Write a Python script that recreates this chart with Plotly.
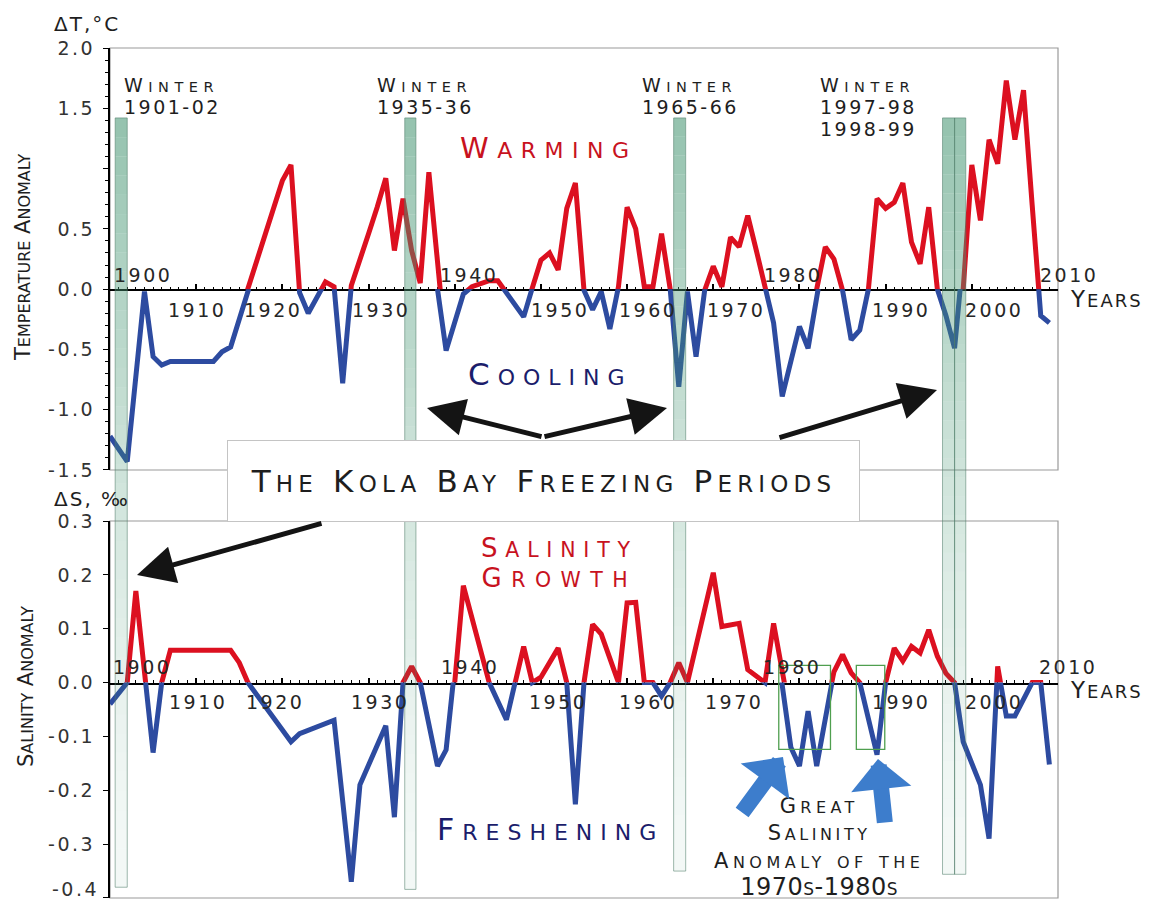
import itertools
import plotly.graph_objects as go

# ---------------------------------------------------------------- data
temp_years = [1900, 1902, 1904, 1905, 1906, 1907, 1912, 1913, 1914, 1915,
              1920, 1921, 1922, 1923, 1925, 1926, 1927, 1928, 1929, 1930,
              1931, 1932, 1933, 1934, 1935, 1936, 1937, 1938, 1939, 1940,
              1941, 1942, 1943, 1944, 1945, 1946, 1947, 1948, 1949, 1950,
              1951, 1952, 1953, 1954, 1955, 1956, 1957, 1958, 1959, 1960,
              1961, 1962, 1963, 1964, 1965, 1966, 1967, 1968, 1969, 1970,
              1971, 1972, 1973, 1974, 1975, 1976, 1977, 1978, 1979, 1980,
              1981, 1982, 1983, 1984, 1985, 1986, 1987, 1988, 1989, 1990,
              1991, 1992, 1993, 1994, 1995, 1996, 1997, 1998, 1999, 2000,
              2001, 2002, 2003, 2004, 2005, 2006, 2007, 2008, 2009]
temp_anomaly = [-1.22, -1.43, -0.02, -0.56, -0.63, -0.60, -0.60, -0.52, -0.48, -0.22,
                0.90, 1.03, -0.03, -0.20, 0.06, 0.02, -0.78, 0.03, 0.26, 0.46,
                0.68, 0.92, 0.32, 0.75, 0.32, 0.05, 0.97, 0.00, -0.51, -0.27,
                -0.04, 0.02, 0.04, 0.07, 0.07, -0.03, -0.13, -0.23, 0.01, 0.24,
                0.30, 0.16, 0.67, 0.88, -0.01, -0.17, -0.02, -0.33, 0.02, 0.68,
                0.50, 0.02, 0.02, 0.46, 0.00, -0.81, -0.02, -0.56, -0.01, 0.19,
                0.02, 0.43, 0.35, 0.61, 0.32, 0.03, -0.28, -0.89, -0.60, -0.31,
                -0.49, 0.00, 0.35, 0.25, -0.01, -0.42, -0.34, 0.00, 0.75, 0.67,
                0.72, 0.88, 0.39, 0.21, 0.68, 0.00, -0.22, -0.49, 0.00, 1.03,
                0.57, 1.24, 1.04, 1.73, 1.24, 1.65, 0.70, -0.22, -0.28]

sal_years = [1900, 1902, 1903, 1905, 1906, 1907, 1914, 1915, 1916, 1921,
             1922, 1926, 1928, 1929, 1932, 1933, 1934, 1935, 1936, 1938,
             1939, 1940, 1941, 1944, 1946, 1947, 1948, 1949, 1950, 1952,
             1953, 1954, 1955, 1956, 1957, 1959, 1960, 1961, 1962, 1963,
             1964, 1965, 1966, 1967, 1970, 1971, 1973, 1974, 1976, 1977,
             1978, 1979, 1980, 1981, 1982, 1983, 1984, 1985, 1986, 1987,
             1989, 1990, 1991, 1992, 1993, 1994, 1995, 1996, 1997, 1998,
             1999, 2001, 2002, 2003, 2004, 2005, 2007, 2008, 2009]
sal_anomaly = [-0.04, 0.00, 0.17, -0.13, 0.00, 0.06, 0.06, 0.037, 0.00, -0.11,
               -0.095, -0.07, -0.37, -0.19, -0.08, -0.25, 0.00, 0.03, 0.00, -0.155,
               -0.125, 0.00, 0.18, 0.00, -0.069, 0.00, 0.067, 0.00, 0.01, 0.064,
               0.00, -0.226, 0.00, 0.108, 0.09, 0.00, 0.148, 0.149, 0.00, 0.00,
               -0.025, 0.00, 0.037, 0.00, 0.204, 0.104, 0.11, 0.024, 0.00, 0.11,
               0.00, -0.12, -0.155, -0.053, -0.155, -0.06, 0.02, 0.052, 0.018, 0.00,
               -0.134, 0.00, 0.064, 0.04, 0.067, 0.055, 0.098, 0.049, 0.017, 0.00,
               -0.11, -0.19, -0.29, 0.03, -0.062, -0.062, 0.00, 0.00, -0.152]

# Kola Bay freezing winters (band edges in years)
freeze_start = [1900.6, 1934.2, 1965.4, 1996.6, 1998.0]
freeze_end = [1902.0, 1935.5, 1966.8, 1998.0, 1999.3]

# Great Salinity Anomaly windows
gsa_start = [1977.6, 1986.6]
gsa_end = [1983.6, 1989.9]
gsa_low = [-0.124, -0.124]
gsa_high = [0.032, 0.032]

decades = list(range(1900, 2011, 10))
temp_pos_ticks = [0.5, 1.0, 1.5, 2.0]
temp_pos_text = ["0.5", "", "1.5", "2.0"]
temp_neg_ticks = [-1.5, -1.0, -0.5, 0.0]
temp_neg_text = ["-1.5", "-1.0", "-0.5", "0.0"]
sal_pos_ticks = [0.1, 0.2, 0.3]
sal_pos_text = ["0.1", "0.2", "0.3"]
sal_neg_ticks = [-0.4, -0.3, -0.2, -0.1, 0.0]
sal_neg_text = ["", "-0.3", "-0.2", "-0.1", "0.0"]   # -0.4 is set a bit higher below
sal_floor_label = "-0.4"

# ---------------------------------------------------------------- styling
FONT = "DejaVu Sans"
RED = "#dc1020"
BLUE = "#2d4ba0"
TITLE_RED = "#c8121e"
NAVY = "#1b1d6b"
INK = "#1e1e1e"
TICK_INK = "#333333"
ARROW_BLUE = "#3d7dcc"
LINE_W = 5

FIG_W, FIG_H = 1150, 905
M_L, M_R, M_T, M_B = 110, 92, 48, 7
PLOT_W = FIG_W - M_L - M_R
PLOT_H = FIG_H - M_T - M_B
TOP_PANEL_BOTTOM = 470   # px
BOTTOM_PANEL_TOP = 521   # px
T_RANGE = (-1.5, 2.0)
S_RANGE = (-0.4, 0.3)
EPS = 1e-4               # keeps the end ticks inside the axis ranges


def px2paper(px):
    return (px - M_L) / PLOT_W


def py2paper(py):
    return (FIG_H - M_B - py) / PLOT_H


top_lo, top_hi = py2paper(TOP_PANEL_BOTTOM), 1.0
bot_lo, bot_hi = 0.0, py2paper(BOTTOM_PANEL_TOP)


def t2paper(v):
    return top_lo + (v - T_RANGE[0]) / (T_RANGE[1] - T_RANGE[0]) * (top_hi - top_lo)


def s2paper(v):
    return bot_lo + (v - S_RANGE[0]) / (S_RANGE[1] - S_RANGE[0]) * (bot_hi - bot_lo)


t_zero = t2paper(0.0)
s_zero = s2paper(0.0)


def sc(s, big, small, ls):
    """Small-caps style text: lowercase letters become smaller capitals."""
    out = []
    for is_lower, grp in itertools.groupby(s, key=str.islower):
        chunk = "".join(grp)
        if is_lower:
            out.append('<span style="font-size:%spx;letter-spacing:%spx">%s</span>'
                       % (small, ls, chunk.upper()))
        else:
            out.append('<span style="font-size:%spx;letter-spacing:%spx">%s</span>'
                       % (big, ls, chunk))
    return "".join(out)


def spaced(s, ls, size=None):
    style = "letter-spacing:%spx" % ls
    if size:
        style = "font-size:%spx;" % size + style
    return '<span style="%s">%s</span>' % (style, s)


def label(text, px, py, size, color=INK, xanchor="center", yanchor="middle", angle=0,
          align="center"):
    return dict(text=text, x=px2paper(px), y=py2paper(py), xref="paper", yref="paper",
                xanchor=xanchor, yanchor=yanchor, showarrow=False, textangle=angle,
                align=align, font=dict(family=FONT, size=size, color=color))


def arrow(tip, tail, color, width, head, size):
    return dict(text="", x=px2paper(tip[0]), y=py2paper(tip[1]), xref="paper", yref="paper",
                ax=tail[0] - tip[0], ay=tail[1] - tip[1], showarrow=True,
                arrowcolor=color, arrowwidth=width, arrowhead=head, arrowsize=size,
                standoff=0)


# ---------------------------------------------------------------- traces
fig = go.Figure()
line_kw = dict(mode="lines", hoverinfo="skip", showlegend=False)
fig.add_trace(go.Scatter(x=temp_years, y=temp_anomaly, xaxis="x", yaxis="y",
                         line=dict(color=RED, width=LINE_W), **line_kw))
fig.add_trace(go.Scatter(x=temp_years, y=temp_anomaly, xaxis="x", yaxis="y3",
                         line=dict(color=BLUE, width=LINE_W), **line_kw))
fig.add_trace(go.Scatter(x=sal_years, y=sal_anomaly, xaxis="x2", yaxis="y2",
                         line=dict(color=RED, width=LINE_W), **line_kw))
fig.add_trace(go.Scatter(x=sal_years, y=sal_anomaly, xaxis="x2", yaxis="y4",
                         line=dict(color=BLUE, width=LINE_W), **line_kw))

# ---------------------------------------------------------------- axes
tick_font = dict(family=FONT, size=19, color=TICK_INK)
xaxis_kw = dict(range=[1900, 2010], domain=[0, 1], showline=True, linecolor="black",
                linewidth=2, ticks="inside", ticklen=5, tickwidth=1.5, tickcolor="black",
                tickmode="array", tickvals=decades, showticklabels=False,
                showgrid=False, zeroline=False, layer="below traces", fixedrange=True,
                automargin=False,
                minor=dict(ticks="inside", ticklen=2.5, tickwidth=1, tickcolor="black",
                           tickmode="linear", tick0=1900, dtick=1, showgrid=False))


def yaxis_kw(domain, rng, vals, texts, anchor, minor):
    kw = dict(domain=domain, range=rng, anchor=anchor, showline=True, linecolor="black",
              linewidth=2, ticks="outside", ticklen=5, tickwidth=1.3, tickcolor="black",
              tickmode="array", tickvals=vals,
              ticktext=[spaced(t, 2.5) if t else "" for t in texts],
              tickfont=tick_font, showgrid=False, zeroline=False, fixedrange=True,
              ticklabelstandoff=4, ticklabeloverflow="allow", automargin=False)
    if minor:
        kw["minor"] = dict(ticks="outside", ticklen=3, tickwidth=1, tickcolor="black",
                           tickmode="linear", tick0=0, dtick=0.1, showgrid=False)
    return kw


fig.update_layout(
    xaxis=dict(anchor="y", **xaxis_kw),
    xaxis2=dict(anchor="y2", **xaxis_kw),
    yaxis=yaxis_kw([t_zero, top_hi], [0, T_RANGE[1] + EPS],
                   temp_pos_ticks, temp_pos_text, "x", True),
    yaxis3=yaxis_kw([top_lo, t_zero], [T_RANGE[0] - EPS, 0],
                    temp_neg_ticks, temp_neg_text, "x", True),
    yaxis2=yaxis_kw([s_zero, bot_hi], [0, S_RANGE[1] + EPS],
                    sal_pos_ticks, sal_pos_text, "x2", False),
    yaxis4=yaxis_kw([bot_lo, s_zero], [S_RANGE[0] - EPS, 0],
                    sal_neg_ticks, sal_neg_text, "x2", False),
)

# ---------------------------------------------------------------- shapes
shapes = []
frame_line = dict(color="#9a9a9a", width=1.2)
shapes.append(dict(type="rect", xref="paper", yref="paper", x0=0, x1=1, y0=top_lo, y1=top_hi,
                   line=frame_line, fillcolor="rgba(0,0,0,0)", layer="below"))
shapes.append(dict(type="rect", xref="paper", yref="paper", x0=0, x1=1, y0=bot_lo, y1=bot_hi,
                   line=frame_line, fillcolor="rgba(0,0,0,0)", layer="below"))

# freezing-winter bands: green fading downwards from the temperature panel
BAND_TOP_T = 1.42
band_bottom_s = [-0.38, -0.384, -0.35, -0.356, -0.356]
N_SLICES = 40
for x0, x1, bs in zip(freeze_start, freeze_end, band_bottom_s):
    top = t2paper(BAND_TOP_T)
    bottom = s2paper(bs)
    for i in range(N_SLICES):
        f0 = i / N_SLICES
        f1 = (i + 1) / N_SLICES
        fm = (f0 + f1) / 2
        alpha = 0.06 + 0.52 * (1 - fm) ** 1.5
        shapes.append(dict(type="rect", xref="x", yref="paper", x0=x0, x1=x1,
                           y0=top - f1 * (top - bottom), y1=top - f0 * (top - bottom),
                           line=dict(width=0), fillcolor="rgba(70,150,115,%.3f)" % alpha,
                           layer="above"))
    shapes.append(dict(type="rect", xref="x", yref="paper", x0=x0, x1=x1, y0=bottom, y1=top,
                       line=dict(color="rgba(80,125,105,0.55)", width=1),
                       fillcolor="rgba(0,0,0,0)", layer="above"))

# Great Salinity Anomaly windows
for x0, x1, lo, hi in zip(gsa_start, gsa_end, gsa_low, gsa_high):
    shapes.append(dict(type="rect", xref="x2", yref="paper", x0=x0, x1=x1,
                       y0=s2paper(lo), y1=s2paper(hi),
                       line=dict(color="#4f9f4f", width=1.3),
                       fillcolor="rgba(0,0,0,0)", layer="above"))

# ---------------------------------------------------------------- annotations
ann = []

# axis units and titles
ann.append(label(sc("ΔT,°C", 20, 20, 2), 52, 24, 20, xanchor="left"))
ann.append(label(sc("ΔS, ‰", 20, 20, 2), 52, 499, 20, xanchor="left"))
ann.append(label(sc("Temperature Anomaly", 21, 16, 0), 23, 257, 21, angle=-90))
ann.append(label(sc("Salinity Anomaly", 21, 16, 0), 26, 687, 21, angle=-90))

# lowest salinity tick label, lifted so it stays on the page
ann.append(dict(text=spaced(sal_floor_label, 2.5), x=0, y=0, xref="paper", yref="paper",
                xanchor="right", yanchor="bottom", xshift=-9, yshift=-4, showarrow=False,
                font=tick_font))

# decade labels along the zero lines
top_above = {1900: 143, 1940: 469, 1980: 793, 2010: 1069}
top_below = {1910: 197, 1920: 273, 1930: 381, 1950: 560, 1960: 648,
             1970: 736, 1990: 901, 2000: 994}
bot_above = {1900: 142, 1940: 470, 1980: 792, 2010: 1068}
bot_below = {1910: 198, 1920: 275, 1930: 380, 1950: 558, 1960: 648,
             1970: 734, 1990: 901, 2000: 994}
for lab, rows in ((top_above, 275), (top_below, 310), (bot_above, 667), (bot_below, 702)):
    for year, px in lab.items():
        ann.append(label(spaced(str(year), 2.5), px, rows, 19, color="#262626"))
ann.append(label(sc("Years", 23, 18, 2), 1068, 299, 23, xanchor="left"))
ann.append(label(sc("Years", 23, 18, 2), 1068, 690, 23, xanchor="left"))

# winter captions (one block each, 22 px line pitch)
winter_captions = [("1901-02",), ("1935-36",), ("1965-66",), ("1997-98", "1998-99")]
winter_left = [122, 375, 640, 818]
for caps, left in zip(winter_captions, winter_left):
    lines = [sc("Winter", 19, 14.5, 5.5)] + [spaced(c, 2.5, 19) for c in caps]
    n = len(lines)
    ann.append(label("<br>".join(lines), left, 85 + 11 * (n - 1), 17,
                     xanchor="left", align="left"))

# regime words
ann.append(label(sc("Warming", 29, 22, 8.5), 549, 148, 29, color=TITLE_RED))
ann.append(label(sc("Cooling", 31, 22, 8), 550, 374, 31, color=NAVY))
ann.append(label(sc("Salinity", 26, 20.5, 7.8) + "<br>" + sc("Growth", 26, 20.5, 9.5),
                 559, 563, 23, color=TITLE_RED))
ann.append(label(sc("Freshening", 30, 22, 8), 550, 829, 30, color=NAVY))

# Great Salinity Anomaly caption
gsa_lines = [sc("Great", 21, 16, 4.4), sc("Salinity", 21, 16, 3.6),
             sc("Anomaly of the", 21, 16, 4.5), sc("1970s-1980s", 24, 17, 0.5)]
ann.append(label("<br>".join(gsa_lines), 819, 847, 21))

# freezing-period callout box
kola = label(sc("The Kola Bay Freezing Periods", 31, 23, 5.2), 543.5, 481, 31)
kola.update(width=631, height=80, bgcolor="white", bordercolor="#c4c4c4",
            borderwidth=1, borderpad=0)
ann.append(kola)

# black pointers to the freezing winters
for tip, tail in (((427, 408), (543, 437)), ((667, 408), (543, 437)),
                  ((937, 390), (778, 438)), ((137, 575), (323, 523))):
    ann.append(arrow(tip, tail, "#141414", 5, 2, 1.5))

# blue pointers to the GSA windows
ann.append(arrow((783, 757), (741, 814), ARROW_BLUE, 16, 1, 0.63))
ann.append(arrow((878, 759), (885, 824), ARROW_BLUE, 16, 1, 0.63))

fig.update_layout(
    width=FIG_W, height=FIG_H,
    margin=dict(l=M_L, r=M_R, t=M_T, b=M_B, pad=0, autoexpand=False),
    paper_bgcolor="white", plot_bgcolor="white",
    showlegend=False, hovermode=False,
    shapes=shapes, annotations=ann,
    font=dict(family=FONT, color=INK),
)

fig.write_html("out.html", config={"displayModeBar": False})
